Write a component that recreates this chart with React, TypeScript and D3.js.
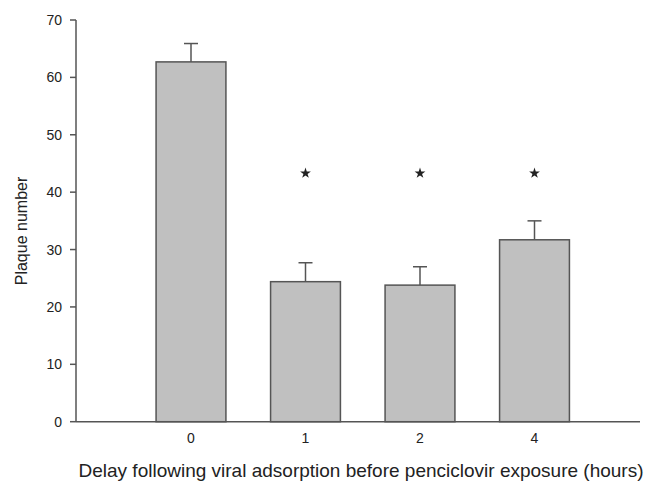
import React from "react";
import * as d3 from "d3";

const categories = ["0", "1", "2", "4"];
const means = [62.7, 24.4, 23.8, 31.7];
const errorTops = [65.9, 27.7, 27.0, 35.0];
const significant = [false, true, true, true];
const starLevel = 43.3;
const yTicks = [0, 10, 20, 30, 40, 50, 60, 70];

const W = 648;
const H = 481;
const axisLeft = 76;
const axisRight = 640;
const y0px = 421.7;
const y70px = 20;

export default function App() {
  const y = d3.scaleLinear().domain([0, 70]).range([y0px, y70px]);
  const x = d3
    .scaleBand<string>()
    .domain(categories)
    .range([133.75, 591.75])
    .paddingInner(0.39)
    .paddingOuter(0.195);
  const star = d3.symbol(d3.symbolStar, 36)() || "";
  const axisColor = "#555";
  const font = "Liberation Sans, Arial, sans-serif";
  return (
    <svg
      width={W}
      height={H}
      style={{ position: "absolute", left: 0, top: 0, background: "#fff" }}
      fontFamily={font}
    >
      {categories.map((c, i) => {
        const bx = x(c)!;
        const bw = x.bandwidth();
        const cx = bx + bw / 2;
        return (
          <g key={c}>
            <line x1={cx} x2={cx} y1={y(means[i])} y2={y(errorTops[i])} stroke={axisColor} strokeWidth={1.5} />
            <line x1={cx - 7} x2={cx + 7} y1={y(errorTops[i])} y2={y(errorTops[i])} stroke={axisColor} strokeWidth={1.5} />
            <rect x={bx} y={y(means[i])} width={bw} height={y(0) - y(means[i])} fill="#c0c0c0" stroke={axisColor} strokeWidth={1.5} />
            {significant[i] && (
              <path d={star} transform={`translate(${cx},${y(starLevel)})`} fill="#222" />
            )}
            <text x={cx} y={443} textAnchor="middle" fontSize={14} fill="#222">
              {c}
            </text>
          </g>
        );
      })}
      <line x1={axisLeft} x2={axisLeft} y1={y(70)} y2={y(0)} stroke={axisColor} strokeWidth={1.5} />
      <line x1={axisLeft} x2={axisRight} y1={y(0)} y2={y(0)} stroke={axisColor} strokeWidth={1.5} />
      {yTicks.map((t) => (
        <g key={t}>
          <line x1={axisLeft - 6} x2={axisLeft} y1={y(t)} y2={y(t)} stroke={axisColor} strokeWidth={1.5} />
          <text x={62} y={y(t)} dy="0.36em" textAnchor="end" fontSize={14} fill="#222">
            {t}
          </text>
        </g>
      ))}
      <text
        transform={`translate(27,${231}) rotate(-90)`}
        textAnchor="middle"
        fontSize={16}
        fill="#222"
      >
        Plaque number
      </text>
      <text x={361} y={477} textAnchor="middle" fontSize={19} fill="#222">
        Delay following viral adsorption before penciclovir exposure (hours)
      </text>
    </svg>
  );
}
